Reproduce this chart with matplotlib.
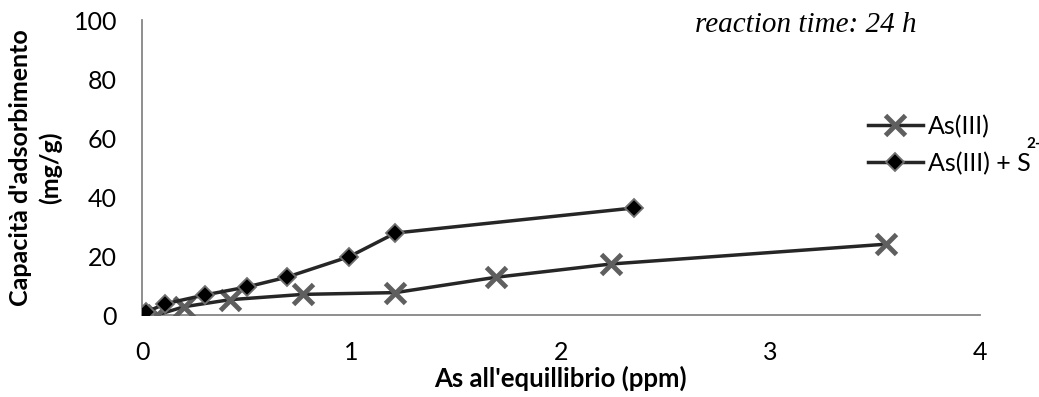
from matplotlib import pyplot as plt
import numpy as np

# As(III) only
x_as = [0.07, 0.20, 0.42, 0.77, 1.21, 1.69, 2.24, 3.55]
y_as = [0.0, 2.8, 5.2, 7.0, 7.6, 12.8, 17.3, 24.0]
# As(III) + S2-
x_as_s = [0.02, 0.11, 0.30, 0.50, 0.69, 0.99, 1.21, 2.35]
y_as_s = [1.0, 3.8, 6.8, 9.5, 12.8, 19.8, 27.8, 36.3]

xticks = [0, 1, 2, 3, 4]
yticks = [0, 20, 40, 60, 80, 100]

plt.rcParams['font.family'] = ['Lato', 'DejaVu Sans']

fig = plt.figure(figsize=(10.39, 3.97), dpi=100)
ax = fig.add_axes([0.1367, 0.2065, 0.8063, 0.7431])

ax.plot(x_as, y_as, '-', color='#262626', lw=2.5, marker='x', ms=14,
        mew=3.5, mec='#5f5f5f', label='As(III)', zorder=3)
ax.plot(x_as_s, y_as_s, '-', color='#262626', lw=2.5, marker='D', ms=9,
        mfc='black', mec='#707070', mew=1.3, label='As(III) + S', zorder=4)

ax.set_xlim(0, 4)
ax.set_ylim(0, 100)
ax.set_xticks(xticks)
ax.set_yticks(yticks)
ax.tick_params(length=0, labelsize=18, colors='black')
ax.tick_params(axis='x', pad=19)
ax.tick_params(axis='y', pad=18)
for s in ['top', 'right']:
    ax.spines[s].set_visible(False)
for s in ['left', 'bottom']:
    ax.spines[s].set_color('#868686')
    ax.spines[s].set_linewidth(1.3)

ax.set_xlabel("As all'equillibrio (ppm)", fontsize=18.5, fontweight='bold', labelpad=1)
ax.set_ylabel("Capacità d'adsorbimento\n(mg/g)", fontsize=18, fontweight='bold',
              labelpad=8, linespacing=1.35)

ax.text(0.925, 0.983, 'reaction time: 24 h', transform=ax.transAxes, ha='right', va='center',
        fontsize=21, style='italic', family='Liberation Serif')

leg = fig.legend(loc='center left', bbox_to_anchor=(0.8354, 0.6348), frameon=False,
                 fontsize=18, labelspacing=0.55, handlelength=2.2, handletextpad=0.2,
                 borderpad=0, borderaxespad=0, handles=ax.get_lines())
# superscript charge on S
fig.text(1026 / 1039, 1 - 144 / 397, '2-', fontsize=11, fontweight='bold', va='center')

plt.savefig('out.png', dpi=100)
